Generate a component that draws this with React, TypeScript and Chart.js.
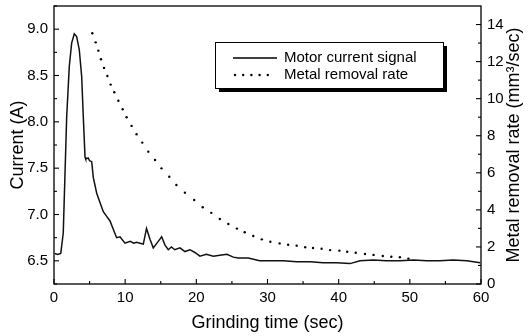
import { useEffect, useRef } from "react";
import { Chart, registerables } from "chart.js";

Chart.register(...registerables);

// Motor current signal (left axis, A)
const currentTime = [
  0.1, 0.5, 0.95, 1.3, 1.55, 1.78, 2.15, 2.48, 2.85, 3.18, 3.55, 3.89, 4.12, 4.36, 4.45, 4.8, 5.0, 5.3,
  5.52, 6.0, 6.46, 6.93, 7.4, 7.87, 8.33, 8.8, 9.27, 9.98, 10.7, 11.2, 11.6, 12.1, 12.55, 13.0, 13.5,
  13.95, 14.65, 15.13, 15.6, 16.06, 16.5, 16.97, 17.7, 18.4, 19.1, 19.8, 20.5, 21.4, 22.4, 23.3, 24.3,
  25.2, 25.9, 27.3, 28.9, 30.4, 32.2, 34.1, 36.0, 37.8, 39.7, 41.6, 43.0, 44.9, 46.7, 48.6, 50.5, 52.4,
  54.2, 56.1, 58.0, 59.9,
];
const currentAmps = [
  6.58, 6.57, 6.58, 6.8, 7.45, 8.05, 8.6, 8.85, 8.95, 8.92, 8.78, 8.49, 8.05, 7.62, 7.6, 7.61, 7.58, 7.57,
  7.4, 7.23, 7.13, 7.03, 6.98, 6.93, 6.84, 6.75, 6.76, 6.69, 6.71, 6.69, 6.7, 6.69, 6.68, 6.85, 6.73,
  6.64, 6.71, 6.76, 6.67, 6.62, 6.65, 6.62, 6.64, 6.6, 6.62, 6.59, 6.55, 6.57, 6.55, 6.56, 6.57,
  6.54, 6.53, 6.53, 6.5, 6.5, 6.5, 6.49, 6.49, 6.48, 6.48, 6.47, 6.5, 6.51, 6.5, 6.5, 6.51, 6.5,
  6.5, 6.51, 6.5, 6.48,
];

// Metal removal rate (right axis, mm^3/sec)
const rateTime = [
  5.38, 5.85, 6.23, 6.6, 7.03, 7.5, 7.96, 8.47, 9.04, 9.65, 10.2, 10.9, 11.6, 12.4, 13.25, 14.2, 15.1,
  16.2, 17.2, 18.4, 19.7, 20.9, 22.1, 23.3, 24.5, 25.7, 26.8, 28.0, 29.2, 30.4, 31.7, 32.9, 34.1, 35.3,
  36.4, 37.6, 38.8, 40.1, 41.2, 42.4, 43.7, 44.9, 46.2, 47.4, 48.6, 49.8,
];
const rateValues = [
  13.53, 13.04, 12.59, 12.13, 11.66, 11.22, 10.76, 10.35, 9.89, 9.43, 9.0, 8.53, 8.08, 7.63, 7.14, 6.69,
  6.24, 5.79, 5.34, 4.93, 4.53, 4.14, 3.84, 3.51, 3.24, 2.99, 2.79, 2.59, 2.41, 2.28, 2.19, 2.12, 2.07,
  1.98, 1.94, 1.9, 1.83, 1.8, 1.74, 1.69, 1.62, 1.57, 1.51, 1.47, 1.44, 1.37,
];

const xTickValues = [0, 10, 20, 30, 40, 50, 60];
const xMinorValues = [5, 15, 25, 35, 45, 55];
const leftTickValues = [6.5, 7.0, 7.5, 8.0, 8.5, 9.0];
const leftMinorValues = [6.25, 6.75, 7.25, 7.75, 8.25, 8.75, 9.25];
const rightTickValues = [0, 2, 4, 6, 8, 10, 12, 14];
const rightMinorValues = [1, 3, 5, 7, 9, 11, 13, 15];

const legendLabels = ["Motor current signal", "Metal removal rate"];
const xTitle = "Grinding time (sec)";
const leftTitle = "Current (A)";
const rightTitle = "Metal removal rate (mm\u00b3/sec)";

const FONT = "'Liberation Sans', Arial, Helvetica, sans-serif";

const framePlugin = {
  id: "frameAndLegend",
  afterDatasetsDraw(chart: any) {
    const { ctx, chartArea: a, scales } = chart;
    ctx.save();
    ctx.strokeStyle = "#000";
    ctx.lineWidth = 1.3;
    ctx.strokeRect(a.left, a.top, a.right - a.left, a.bottom - a.top);

    ctx.lineWidth = 1.1;
    const seg = (x1: number, y1: number, x2: number, y2: number) => {
      ctx.beginPath();
      ctx.moveTo(x1, y1);
      ctx.lineTo(x2, y2);
      ctx.stroke();
    };
    xTickValues.forEach((v) => {
      const p = scales.x.getPixelForValue(v);
      seg(p, a.bottom, p, a.bottom - 5);
    });
    xMinorValues.forEach((v) => {
      const p = scales.x.getPixelForValue(v);
      seg(p, a.bottom, p, a.bottom - 3);
    });
    leftTickValues.forEach((v) => {
      const p = scales.y.getPixelForValue(v);
      seg(a.left, p, a.left + 5, p);
    });
    leftMinorValues.forEach((v) => {
      const p = scales.y.getPixelForValue(v);
      seg(a.left, p, a.left + 3, p);
    });
    rightTickValues.forEach((v) => {
      const p = scales.y1.getPixelForValue(v);
      seg(a.right, p, a.right - 5, p);
    });
    rightMinorValues.forEach((v) => {
      const p = scales.y1.getPixelForValue(v);
      if (p > a.top) seg(a.right, p, a.right - 3, p);
    });

    // Legend box with shadow
    const lx = 215, ly = 42, lw = 228, lh = 46;
    ctx.fillStyle = "#000";
    ctx.fillRect(lx + 4, ly + 4, lw, lh);
    ctx.fillStyle = "#fff";
    ctx.fillRect(lx, ly, lw, lh);
    ctx.lineWidth = 1;
    ctx.strokeStyle = "#000";
    ctx.strokeRect(lx + 0.5, ly + 0.5, lw, lh);

    ctx.lineWidth = 1.5;
    seg(233, 58, 277, 58);
    ctx.fillStyle = "#000";
    for (let i = 0; i < 5; i++) {
      ctx.beginPath();
      ctx.arc(235 + i * 8.2, 75, 1.2, 0, Math.PI * 2);
      ctx.fill();
    }
    ctx.font = `15px ${FONT}`;
    ctx.textBaseline = "middle";
    ctx.textAlign = "left";
    ctx.fillText(legendLabels[0], 284, 58);
    ctx.fillText(legendLabels[1], 284, 75);

    // Right axis title (reads bottom-to-top)
    ctx.save();
    ctx.translate(514, (a.top + a.bottom) / 2);
    ctx.rotate(-Math.PI / 2);
    ctx.font = `18px ${FONT}`;
    ctx.textAlign = "center";
    ctx.textBaseline = "middle";
    ctx.fillText(rightTitle, 0, 0);
    ctx.restore();

    ctx.restore();
  },
};

export default function App() {
  const canvasRef = useRef<HTMLCanvasElement | null>(null);

  useEffect(() => {
    if (!canvasRef.current) return;
    const chart = new Chart(canvasRef.current, {
      type: "scatter",
      data: {
        datasets: [
          {
            label: legendLabels[0],
            data: currentTime.map((t, i) => ({ x: t, y: currentAmps[i] })),
            showLine: true,
            borderColor: "#111",
            borderWidth: 1.5,
            pointRadius: 0,
            tension: 0,
            yAxisID: "y",
          },
          {
            label: legendLabels[1],
            data: rateTime.map((t, i) => ({ x: t, y: rateValues[i] })),
            showLine: false,
            pointRadius: 1.2,
            pointBorderWidth: 0,
            pointBackgroundColor: "#000",
            yAxisID: "y1",
          },
        ],
      },
      options: {
        animation: false,
        responsive: true,
        maintainAspectRatio: false,
        layout: { padding: { top: 6, left: 0, right: 0, bottom: 0 } },
        plugins: { legend: { display: false }, tooltip: { enabled: false } },
        scales: {
          x: {
            type: "linear",
            min: 0,
            max: 60,
            grid: { display: false, drawTicks: false },
            border: { display: false },
            afterBuildTicks: (s: any) => {
              s.ticks = xTickValues.map((v) => ({ value: v }));
            },
            afterFit: (s: any) => {
              s.height = 52;
              s.paddingLeft = 0;
              s.paddingRight = 0;
            },
            ticks: { padding: 5, color: "#000", font: { family: FONT, size: 15 }, maxRotation: 0 },
            title: {
              display: true,
              text: xTitle,
              color: "#000",
              font: { family: FONT, size: 18 },
              padding: { top: 0, bottom: 2 },
            },
          },
          y: {
            type: "linear",
            position: "left",
            min: 6.25,
            max: 9.25,
            grid: { display: false, drawTicks: false },
            border: { display: false },
            afterBuildTicks: (s: any) => {
              s.ticks = leftTickValues.map((v) => ({ value: v }));
            },
            afterFit: (s: any) => {
              s.width = 54;
              s.paddingTop = 0;
              s.paddingBottom = 0;
            },
            ticks: {
              padding: 6,
              color: "#000",
              font: { family: FONT, size: 15 },
              callback: (v: any) => Number(v).toFixed(1),
            },
            title: {
              display: true,
              text: leftTitle,
              color: "#000",
              font: { family: FONT, size: 18 },
              padding: { top: 7, bottom: 0 },
            },
          },
          y1: {
            type: "linear",
            position: "right",
            min: 0,
            max: 15,
            grid: { display: false, drawTicks: false },
            border: { display: false },
            afterBuildTicks: (s: any) => {
              s.ticks = rightTickValues.map((v) => ({ value: v }));
            },
            afterFit: (s: any) => {
              s.width = 51;
              s.paddingTop = 0;
              s.paddingBottom = 0;
            },
            ticks: { padding: 6, color: "#000", font: { family: FONT, size: 15 } },
          },
        },
      },
      plugins: [framePlugin],
    });
    return () => chart.destroy();
  }, []);

  return (
    <div style={{ position: "fixed", left: 0, top: 0, width: 532, height: 336, background: "#fff" }}>
      <canvas ref={canvasRef} />
    </div>
  );
}
